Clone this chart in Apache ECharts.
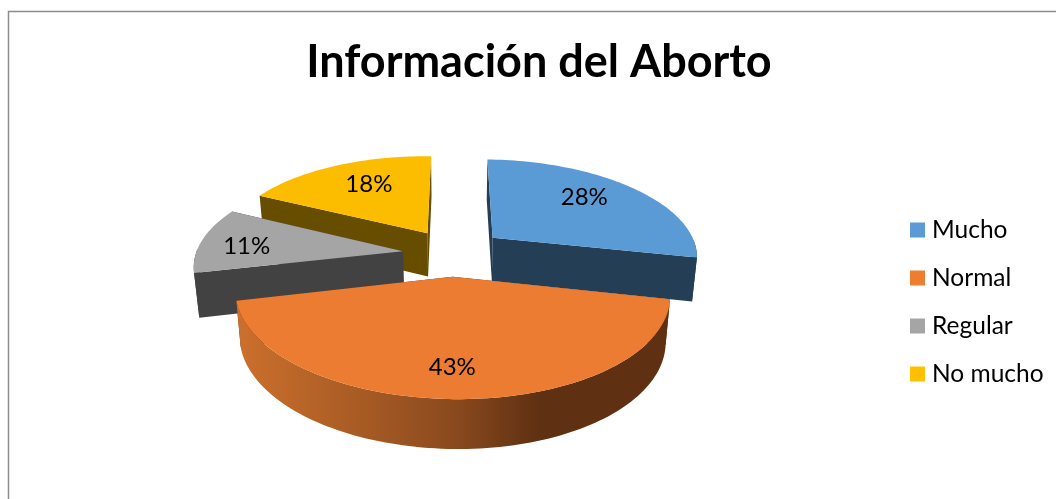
<!DOCTYPE html>
<html>
<head>
<meta charset="utf-8">
<title>Información del Aborto</title>
<script src="https://cdn.jsdelivr.net/npm/echarts@6/dist/echarts.min.js"></script>
<style>
  html, body { margin: 0; padding: 0; background: #fff; overflow: hidden; }
  #chart { width: 1056px; height: 499px; }
</style>
</head>
<body>
<div id="chart"></div>
<script>
var categories = ['Mucho', 'Normal', 'Regular', 'No mucho'];
var values = [28, 43, 11, 18];
var topColors = ['#5B9BD5', '#EB7C31', '#A5A5A5', '#FCBD00'];
var legendColors = ['#5B9BD5', '#ED7D31', '#A5A5A5', '#FFC000'];
var sideColors = ['#243E56', '#5F3012', '#424242', '#664D00'];
var labelRadius = [145, 159, 158, 141];
var labelNudge = [-4.6, 2, -3, 3.3];
// small screen shifts per slice, the simple camera does not land them exactly
var shiftX = [0, -2.5, 1, 1];
var shiftY = [0, 0, 2, 1];
// back slices get painted first
var paintOrder = [3, 2, 0, 1];

var CX = 453.5;
var CY = 252;
var RADIUS = 206;
var EXPLODE = 52;
var TILT = 0.459;
var PERSP = 0.000756;
var ROLL = 0.012;
var DEPTH = 44;
var DEPTH_PERSP = 0.55;
var BASE_SHRINK = 0.98;
var FONT = 'Lato, "Open Sans", sans-serif';

function sliceStart(idx) {
  var sum = 0;
  for (var i = 0; i < idx; i++) sum += values[i];
  return sum / 100 * 360;
}

function rad(deg) { return deg * Math.PI / 180; }

// ground plane (x to the right, z toward the viewer) to screen
function project(x, z, isBase) {
  var f = 1 / (1 - PERSP * z);
  var sx = x * f;
  var sy = TILT * z * f + ROLL * sx;
  if (isBase) {
    sx *= BASE_SHRINK;
    sy += DEPTH * (1 + (f - 1) * DEPTH_PERSP);
  }
  return [CX + sx, CY + sy];
}

function rimPoint(ox, oz, deg, r, isBase) {
  return project(ox + r * Math.sin(rad(deg)), oz - r * Math.cos(rad(deg)), isBase);
}

function arcPoints(ox, oz, from, to, isBase) {
  var pts = [];
  var steps = Math.max(2, Math.ceil((to - from) / 1.5));
  for (var i = 0; i <= steps; i++) {
    pts.push(rimPoint(ox, oz, from + (to - from) * i / steps, RADIUS, isBase));
  }
  return pts;
}

function poly(points, fill) {
  return { type: 'polygon', shape: { points: points }, style: { fill: fill } };
}

function radialFace(ox, oz, deg, fill) {
  return poly([
    project(ox, oz, false),
    rimPoint(ox, oz, deg, RADIUS, false),
    rimPoint(ox, oz, deg, RADIUS, true),
    project(ox, oz, true)
  ], fill);
}

function wallFill(idx) {
  if (idx !== 1) return sideColors[idx];
  return {
    type: 'linear', x: 0, y: 0, x2: 1, y2: 0,
    colorStops: [
      { offset: 0, color: '#CC702C' },
      { offset: 0.3, color: '#A65A24' },
      { offset: 0.5, color: '#8A4A1E' },
      { offset: 0.7, color: sideColors[1] },
      { offset: 1, color: sideColors[1] }
    ]
  };
}

function renderSlice(idx) {
  return function () {
    var start = sliceStart(idx);
    var end = start + values[idx] / 100 * 360;
    var mid = (start + end) / 2;
    var ox = EXPLODE * Math.sin(rad(mid));
    var oz = -EXPLODE * Math.cos(rad(mid));
    var children = [];

    children.push(radialFace(ox, oz, start, sideColors[idx]));
    children.push(radialFace(ox, oz, end, sideColors[idx]));

    // the rim only shows where it faces the viewer
    var wallFrom = Math.max(start, 90);
    var wallTo = Math.min(end, 270);
    if (wallTo > wallFrom) {
      var rimTop = arcPoints(ox, oz, wallFrom, wallTo, false);
      var rimBase = arcPoints(ox, oz, wallFrom, wallTo, true).reverse();
      children.push(poly(rimTop.concat(rimBase), wallFill(idx)));
    }

    var top = [project(ox, oz, false)].concat(arcPoints(ox, oz, start, end, false));
    children.push(poly(top, topColors[idx]));

    var labelPos = rimPoint(ox, oz, mid + labelNudge[idx], labelRadius[idx], false);
    children.push({
      type: 'text',
      style: {
        text: values[idx] + '%',
        x: labelPos[0],
        y: labelPos[1],
        fill: '#000',
        font: '24px ' + FONT,
        align: 'center',
        verticalAlign: 'middle'
      }
    });

    return { type: 'group', x: shiftX[idx], y: shiftY[idx], children: children };
  };
}

var chart = echarts.init(document.getElementById('chart'), null, { renderer: 'canvas' });

chart.setOption({
  animation: false,
  backgroundColor: '#fff',
  title: {
    text: 'Información del Aborto',
    left: 534,
    top: 35,
    textAlign: 'center',
    textStyle: { color: '#000', fontFamily: FONT, fontWeight: 'bold', fontSize: 45 }
  },
  legend: {
    orient: 'vertical',
    left: 910,
    top: 217.5,
    padding: 0,
    icon: 'rect',
    itemWidth: 15,
    itemHeight: 15,
    itemGap: 23,
    selectedMode: false,
    data: categories,
    textStyle: { color: '#000', fontFamily: FONT, fontSize: 24.5, lineHeight: 24, padding: [0, 0, 0, 2] }
  },
  graphic: [{
    type: 'polyline',
    silent: true,
    shape: { points: [[8.5, 499], [8.5, 11.5], [1056, 11.5]] },
    style: { fill: null, stroke: '#8C8C8C', lineWidth: 1.5 }
  }],
  series: paintOrder.map(function (idx) {
    return {
      type: 'custom',
      name: categories[idx],
      coordinateSystem: 'none',
      silent: true,
      itemStyle: { color: legendColors[idx] },
      renderItem: renderSlice(idx),
      data: [{ name: categories[idx], value: values[idx] }]
    };
  })
});
</script>
</body>
</html>
